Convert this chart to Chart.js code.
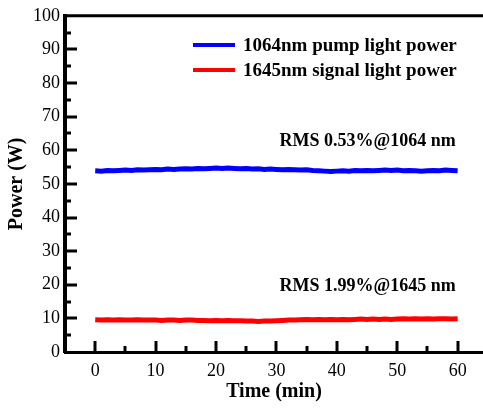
<!DOCTYPE html>
<html>
<head>
<meta charset="utf-8">
<title>Power stability</title>
<script src="https://cdn.jsdelivr.net/npm/chart.js@4"></script>
<style>
  html, body { margin: 0; padding: 0; background: #fff; overflow: hidden; }
  #wrap { position: relative; width: 483px; height: 408px; }
</style>
</head>
<body>
<div id="wrap"><canvas id="powerChart" width="483" height="408"></canvas></div>
<script>
// sampling times (min)
var minutes = [
	0, 1, 2, 3, 4, 5, 6, 7, 8, 9, 10, 11, 12, 13, 14, 15, 16, 17, 18, 19, 20,
	21, 22, 23, 24, 25, 26, 27, 28, 29, 30, 31, 32, 33, 34, 35, 36, 37, 38, 39, 40,
	41, 42, 43, 44, 45, 46, 47, 48, 49, 50, 51, 52, 53, 54, 55, 56, 57, 58, 59, 60
];

// 1064 nm pump power (W)
var pumpPower = [
	53.9, 53.8, 54.0, 53.9, 54.0, 54.1, 54.0, 54.2, 54.1, 54.2, 54.3,
	54.2, 54.4, 54.3, 54.4, 54.5, 54.4, 54.6, 54.5, 54.6, 54.7,
	54.6, 54.7, 54.6, 54.5, 54.6, 54.4, 54.5, 54.3, 54.4, 54.3,
	54.2, 54.3, 54.2, 54.1, 54.2, 54.0, 53.9, 53.8, 53.7, 53.8,
	53.9, 53.8, 54.0, 53.9, 54.0, 53.9, 54.0, 54.1, 54.0, 54.1,
	53.9, 54.0, 53.9, 53.8, 53.9, 54.0, 53.9, 54.1, 54.0, 53.9
];

// 1645 nm signal power (W)
var signalPower = [
	9.6, 9.5, 9.6, 9.5, 9.6, 9.5, 9.5, 9.6, 9.5, 9.5, 9.5,
	9.4, 9.5, 9.5, 9.4, 9.5, 9.5, 9.4, 9.4, 9.3, 9.4,
	9.3, 9.4, 9.3, 9.3, 9.2, 9.2, 9.1, 9.2, 9.2, 9.3,
	9.4, 9.5, 9.5, 9.6, 9.7, 9.6, 9.7, 9.6, 9.7, 9.6,
	9.7, 9.6, 9.7, 9.8, 9.7, 9.8, 9.7, 9.8, 9.7, 9.8,
	9.9, 9.8, 9.9, 9.8, 9.9, 9.8, 9.9, 9.9, 9.8, 9.9
];

var seriesNames = ["1064nm pump light power", "1645nm signal light power"];
var seriesColors = ["#0000ff", "#ff0000"];

var xMajor = [0, 10, 20, 30, 40, 50, 60];
var xMinor = [5, 15, 25, 35, 45, 55];
var yMajor = [0, 10, 20, 30, 40, 50, 60, 70, 80, 90, 100];
var yMinor = [5, 15, 25, 35, 45, 55, 65, 75, 85, 95];

var rmsNotes = [
	{ text: "RMS 0.53%@1064 nm", x: 59.7, y: 62.7 },
	{ text: "RMS 1.99%@1645 nm", x: 59.7, y: 19.4 }
];

var serif = "'Liberation Serif', 'Times New Roman', serif";

// inward ticks, top frame line, legend and rms labels
const decorations = {
	id: "decorations",
	afterDraw(chart) {
		const ctx = chart.ctx;
		const a = chart.chartArea;
		const x = chart.scales.x;
		const y = chart.scales.y;

		ctx.save();
		ctx.strokeStyle = "#000";
		ctx.lineWidth = 3;
		ctx.lineCap = "butt";

		function seg(x1, y1, x2, y2) {
			ctx.beginPath();
			ctx.moveTo(x1, y1);
			ctx.lineTo(x2, y2);
			ctx.stroke();
		}

		seg(a.left - 2, a.top, a.right, a.top);

		xMajor.forEach((v) => {
			const px = Math.round(x.getPixelForValue(v));
			seg(px, a.bottom, px, a.bottom - 11);
		});
		xMinor.forEach((v) => {
			const px = Math.round(x.getPixelForValue(v));
			seg(px, a.bottom, px, a.bottom - 6);
		});
		yMajor.slice(1, -1).forEach((v) => {
			const py = Math.round(y.getPixelForValue(v));
			seg(a.left, py, a.left + 12, py);
		});
		yMinor.forEach((v) => {
			const py = Math.round(y.getPixelForValue(v));
			seg(a.left, py, a.left + 6, py);
		});

		// legend
		ctx.font = "bold 19px " + serif;
		ctx.textBaseline = "middle";
		ctx.textAlign = "left";
		ctx.lineWidth = 4;
		chart.data.datasets.forEach((ds, i) => {
			const ly = 45 + i * 25;
			ctx.strokeStyle = ds.borderColor;
			seg(193, ly, 235, ly);
			ctx.fillStyle = "#000";
			ctx.fillText(ds.label, 243, ly + 1);
		});

		// rms labels
		ctx.font = "bold 18px " + serif;
		ctx.textAlign = "right";
		rmsNotes.forEach((n) => {
			ctx.fillText(n.text, x.getPixelForValue(n.x), y.getPixelForValue(n.y));
		});

		ctx.restore();
	},
};

function toPoints(values) {
	return values.map((v, i) => ({ x: minutes[i], y: v }));
}

const ctx = document.getElementById("powerChart");

new Chart(ctx, {
	type: "line",
	data: {
		datasets: [
			{
				label: seriesNames[0],
				data: toPoints(pumpPower),
				borderColor: seriesColors[0],
				borderWidth: 5,
				pointRadius: 0,
				tension: 0,
			},
			{
				label: seriesNames[1],
				data: toPoints(signalPower),
				borderColor: seriesColors[1],
				borderWidth: 5,
				pointRadius: 0,
				tension: 0,
			},
		],
	},
	options: {
		responsive: false,
		animation: false,
		layout: { padding: { top: 13, right: 0, left: 0, bottom: 0 } },
		plugins: {
			legend: { display: false },
			tooltip: { enabled: false },
		},
		scales: {
			x: {
				type: "linear",
				min: -5,
				max: 64.2,
				afterFit: (scale) => {
					scale.height = 56;
				},
				afterBuildTicks: (scale) => {
					scale.ticks = xMajor.map((v) => ({ value: v }));
				},
				grid: { display: false, drawTicks: false },
				border: { display: true, color: "#000", width: 3 },
				ticks: {
					color: "#000",
					padding: 8,
					maxRotation: 0,
					autoSkip: false,
					font: { family: serif, size: 18 },
				},
				title: {
					display: true,
					text: "Time (min)",
					color: "#000",
					font: { family: serif, size: 20, weight: "bold" },
					padding: { top: 0, bottom: 4 },
				},
			},
			y: {
				min: 0,
				max: 100,
				afterFit: (scale) => {
					scale.width = 65;
				},
				afterBuildTicks: (scale) => {
					scale.ticks = yMajor.map((v) => ({ value: v }));
				},
				grid: { display: false, drawTicks: false },
				border: { display: true, color: "#000", width: 4 },
				ticks: {
					color: "#000",
					padding: 5,
					autoSkip: false,
					font: { family: serif, size: 18 },
				},
				title: {
					display: true,
					text: "Power (W)",
					color: "#000",
					font: { family: serif, size: 20, weight: "bold" },
					padding: { top: 5, bottom: 0 },
				},
			},
		},
	},
	plugins: [decorations],
});
</script>
</body>
</html>
